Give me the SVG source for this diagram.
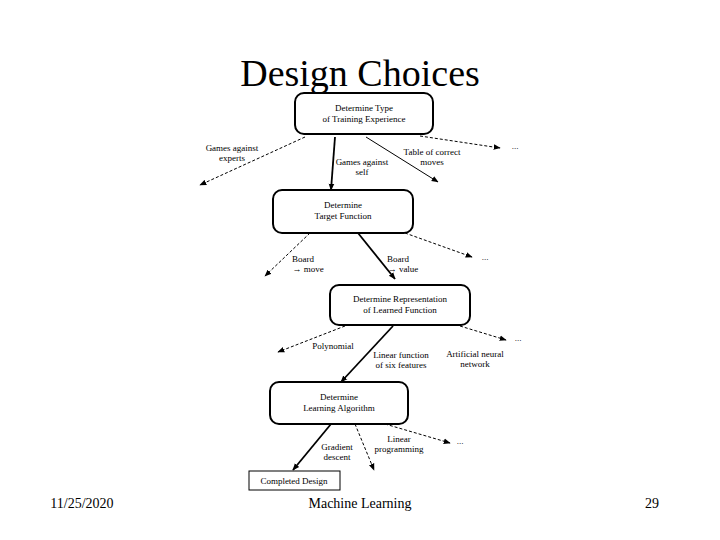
<svg xmlns="http://www.w3.org/2000/svg" width="720" height="540" viewBox="0 0 720 540">
<style>
.t{font-family:"Liberation Serif",serif;fill:#000}
.s{font-size:9px}
.b{fill:#fff;stroke:#000;stroke-width:2}
.c line{stroke:#000;stroke-width:1}
.c .k{stroke-width:1.8}
</style>
<defs><marker id="a" viewBox="0 0 10 10" refX="9" refY="5" markerWidth="7" markerHeight="7" orient="auto" markerUnits="userSpaceOnUse"><path d="M0,1L10,5L0,9z"/></marker></defs>
<rect width="720" height="540" fill="#fff"/>
<text class="t" x="360" y="86" font-size="38" text-anchor="middle">Design Choices</text>
<g class="c" marker-end="url(#a)">
<line x1="305" y1="137" x2="200" y2="185" stroke-dasharray="3,2" marker-end="url(#a)"/>
<line class="k" x1="335" y1="137" x2="331" y2="190" marker-end="url(#a)"/>
<line x1="366" y1="137" x2="438" y2="182" marker-end="url(#a)"/>
<line x1="420" y1="136" x2="500" y2="148" stroke-dasharray="3,2" marker-end="url(#a)"/>
<line x1="310" y1="233" x2="265" y2="276" stroke-dasharray="3,2" marker-end="url(#a)"/>
<line class="k" x1="358" y1="233" x2="395" y2="279" marker-end="url(#a)"/>
<line x1="405" y1="233" x2="472" y2="257" stroke-dasharray="3,2" marker-end="url(#a)"/>
<line x1="345" y1="326" x2="278" y2="352" stroke-dasharray="3,2" marker-end="url(#a)"/>
<line class="k" x1="393" y1="326" x2="341" y2="382" marker-end="url(#a)"/>
<line x1="460" y1="326" x2="506" y2="340" stroke-dasharray="3,2" marker-end="url(#a)"/>
<line class="k" x1="331" y1="424" x2="293" y2="470" marker-end="url(#a)"/>
<line x1="355" y1="424" x2="374" y2="470" stroke-dasharray="3,2" marker-end="url(#a)"/>
<line x1="385" y1="424" x2="450" y2="443" stroke-dasharray="3,2" marker-end="url(#a)"/>
</g>
<g id="n1"><rect class="b" x="295" y="93" width="138" height="41" rx="9"/><text class="t s" x="364" y="111" text-anchor="middle">Determine Type</text><text class="t s" x="364" y="122" text-anchor="middle">of Training Experience</text></g>
<g id="n2"><rect class="b" x="273" y="190" width="140" height="43" rx="9"/><text class="t s" x="343" y="208" text-anchor="middle">Determine</text><text class="t s" x="343" y="219" text-anchor="middle">Target Function</text></g>
<g id="n3"><rect class="b" x="330" y="285" width="140" height="40" rx="9"/><text class="t s" x="400" y="302" text-anchor="middle">Determine Representation</text><text class="t s" x="400" y="313" text-anchor="middle">of Learned Function</text></g>
<g id="n4"><rect class="b" x="270" y="382" width="138" height="42" rx="9"/><text class="t s" x="339" y="400" text-anchor="middle">Determine</text><text class="t s" x="339" y="411" text-anchor="middle">Learning Algorithm</text></g>
<g id="n5"><rect x="249" y="471" width="91" height="19" fill="#fff" stroke="#000" stroke-width="1"/><text class="t s" x="294" y="484" text-anchor="middle">Completed Design</text></g>
<g id="labels" class="t s" text-anchor="middle">
<text x="232" y="151">Games against</text><text x="232" y="161">experts</text>
<text x="362" y="165">Games against</text><text x="362" y="175">self</text>
<text x="432" y="155">Table of correct</text><text x="432" y="165">moves</text>
<text x="515" y="149">...</text>
<text x="303" y="262">Board</text><text x="308" y="272">→ move</text>
<text x="398" y="262">Board</text><text x="403" y="272">→ value</text>
<text x="485" y="260">...</text>
<text x="333" y="349">Polynomial</text>
<text x="401" y="358">Linear function</text><text x="401" y="368">of six features</text>
<text x="475" y="357">Artificial neural</text><text x="475" y="367">network</text>
<text x="518" y="341">...</text>
<text x="337" y="450">Gradient</text><text x="337" y="460">descent</text>
<text x="399" y="442">Linear</text><text x="399" y="452">programming</text>
<text x="460" y="444">...</text>
</g>
<text class="t" x="82" y="508" font-size="14" text-anchor="middle">11/25/2020</text>
<text class="t" x="360" y="508" font-size="14" text-anchor="middle">Machine Learning</text>
<text class="t" x="652" y="508" font-size="14" text-anchor="middle">29</text>
</svg>
